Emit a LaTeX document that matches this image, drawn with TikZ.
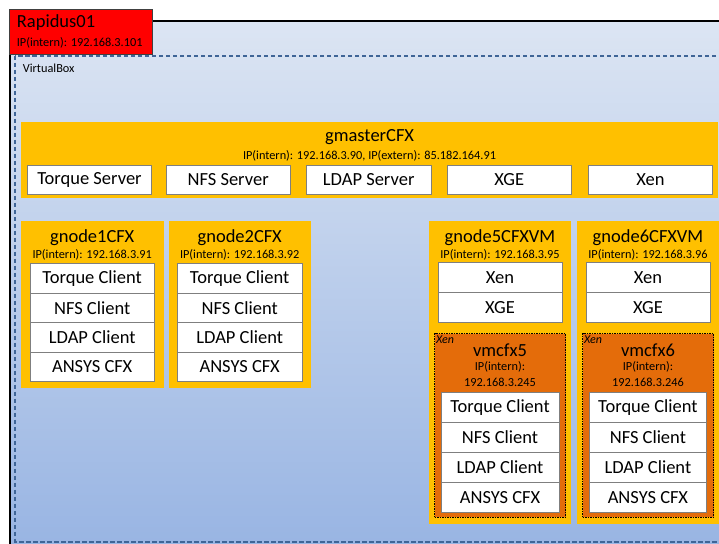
\documentclass[tikz,border=0pt]{standalone}
\usepackage{fontspec}
\setmainfont{Carlito}
\definecolor{hostcolor}{HTML}{FFC000}
\definecolor{vmcolor}{HTML}{E46C0A}
\definecolor{boxline}{HTML}{7F7F7F}
\definecolor{vboxline}{HTML}{3F6597}
\definecolor{bgtop}{HTML}{DCE5F3}
\definecolor{bgbottom}{HTML}{99B5E3}

\begin{document}
\begin{tikzpicture}[
    bigtext/.style = {font = \fontsize{18.5pt}{20pt}\selectfont, inner sep = 0pt},
    smalltext/.style = {font = \fontsize{12.3pt}{14pt}\selectfont, inner sep = 0pt},
    host/.style = {fill = hostcolor, anchor = north west, inner sep = 0pt},
    vm/.style = {fill = vmcolor, draw = black, line width = 0.6pt, dash pattern = on 1.5pt off 1pt, anchor = north west, inner sep = 0pt},
    service/.style = {bigtext, draw = boxline, fill = white, line width = 0.6pt, minimum width = 124.3pt, minimum height = 28.6pt},
    cell/.style = {bigtext, draw = boxline, fill = white, line width = 0.6pt, minimum width = 124.3pt, minimum height = 29.6pt},
    vmcell/.style = {bigtext, draw = boxline, fill = white, line width = 0.6pt, minimum width = 118pt, minimum height = 29.9pt}
]
        \useasboundingbox (0pt, 0pt) rectangle (719pt, -543pt);
        \fill [white] (0pt, 0pt) rectangle (719pt, -543pt);

        % Frame
        \shade [top color = bgtop, bottom color = bgbottom] (9.5pt, -21pt) rectangle (719pt, -543pt);
        \draw [line width = 2pt] (9.5pt, -545pt) -- (9.5pt, -21pt) -- (722pt, -21pt);
        \draw [vboxline, line width = 1.6pt, dash pattern = on 4.5pt off 2.5pt] (15pt, -55.7pt) rectangle (730pt, -541.7pt);
        \node [smalltext, anchor = west] (vboxlabel) at (22.7pt, -68.3pt) {VirtualBox};

        \node [fill = red, draw = black!75, line width = 0.6pt, anchor = north west, inner sep = 0pt, minimum width = 143pt, minimum height = 45.3pt] (rapidus) at (8.5pt, -9pt) {};
        \node [bigtext, anchor = west] (rapidusname) at (16.7pt, -23pt) {Rapidus01};
        \node [smalltext, anchor = west] (rapidusip) at (16.7pt, -42.7pt) {IP(intern): 192.168.3.101};

        % Master
        \node [host, minimum width = 697pt, minimum height = 75.7pt] (gmaster) at (21pt, -122pt) {};
        \node [bigtext] (gmastername) at (369.5pt, -137pt) {gmasterCFX};
        \node [smalltext] (gmasterip) at (369.5pt, -156pt) {IP(intern): 192.168.3.90, IP(extern): 85.182.164.91};
        \node [service] (torqueserver) at (89.5pt, -180pt) {Torque Server};
        \node [service] (nfsserver) at (228.2pt, -180pt) {NFS Server};
        \node [service] (ldapserver) at (368.7pt, -180pt) {LDAP Server};
        \node [service] (xgeserver) at (509.2pt, -180pt) {XGE};
        \node [service] (xenserver) at (650.5pt, -180pt) {Xen};

        % Nodes 1 and 2
        \node [host, minimum width = 142.3pt, minimum height = 166.7pt] (gnode1) at (21pt, -221pt) {};
        \node [bigtext] (gnode1name) at (92.2pt, -237.7pt) {gnode1CFX};
        \node [smalltext] (gnode1ip) at (92.2pt, -255pt) {IP(intern): 192.168.3.91};
        \node [cell] (g1torque) at (92.2pt, -278.1pt) {Torque Client};
        \node [cell] (g1nfs) at (92.2pt, -307.7pt) {NFS Client};
        \node [cell] (g1ldap) at (92.2pt, -337.3pt) {LDAP Client};
        \node [cell] (g1ansys) at (92.2pt, -366.9pt) {ANSYS CFX};

        \node [host, minimum width = 141.7pt, minimum height = 166.7pt] (gnode2) at (169pt, -221pt) {};
        \node [bigtext] (gnode2name) at (239.7pt, -237.7pt) {gnode2CFX};
        \node [smalltext] (gnode2ip) at (239.7pt, -255pt) {IP(intern): 192.168.3.92};
        \node [cell] (g2torque) at (239.7pt, -278.1pt) {Torque Client};
        \node [cell] (g2nfs) at (239.7pt, -307.7pt) {NFS Client};
        \node [cell] (g2ldap) at (239.7pt, -337.3pt) {LDAP Client};
        \node [cell] (g2ansys) at (239.7pt, -366.9pt) {ANSYS CFX};

        % Nodes 5 and 6 with their VMs
        \node [host, minimum width = 142pt, minimum height = 303pt] (gnode5) at (429pt, -221pt) {};
        \node [bigtext] (gnode5name) at (500pt, -237.7pt) {gnode5CFXVM};
        \node [smalltext] (gnode5ip) at (500pt, -255pt) {IP(intern): 192.168.3.95};
        \node [cell, minimum height = 30pt] (g5xen) at (500pt, -277.3pt) {Xen};
        \node [cell, minimum height = 30pt] (g5xge) at (500pt, -307.3pt) {XGE};
        \node [vm, minimum width = 131pt, minimum height = 183.4pt] (vmcfx5) at (434.3pt, -333.3pt) {};
        \node [smalltext, anchor = west, font = \fontsize{12pt}{14pt}\selectfont\itshape] (vm5xen) at (436pt, -339.3pt) {Xen};
        \node [bigtext] (vm5name) at (500pt, -350pt) {vmcfx5};
        \node [smalltext] (vm5ipa) at (500pt, -366.7pt) {IP(intern):};
        \node [smalltext] (vm5ipb) at (500pt, -382.3pt) {192.168.3.245};
        \node [vmcell] (v5torque) at (500pt, -407.65pt) {Torque Client};
        \node [vmcell] (v5nfs) at (500pt, -437.55pt) {NFS Client};
        \node [vmcell] (v5ldap) at (500pt, -467.45pt) {LDAP Client};
        \node [vmcell] (v5ansys) at (500pt, -497.35pt) {ANSYS CFX};

        \node [host, minimum width = 142pt, minimum height = 303pt] (gnode6) at (576.7pt, -221pt) {};
        \node [bigtext] (gnode6name) at (648pt, -237.7pt) {gnode6CFXVM};
        \node [smalltext] (gnode6ip) at (648pt, -255pt) {IP(intern): 192.168.3.96};
        \node [cell, minimum height = 30pt] (g6xen) at (648pt, -277.3pt) {Xen};
        \node [cell, minimum height = 30pt] (g6xge) at (648pt, -307.3pt) {XGE};
        \node [vm, minimum width = 131pt, minimum height = 183.4pt] (vmcfx6) at (582.3pt, -333.3pt) {};
        \node [smalltext, anchor = west, font = \fontsize{12pt}{14pt}\selectfont\itshape] (vm6xen) at (584pt, -339.3pt) {Xen};
        \node [bigtext] (vm6name) at (648pt, -350pt) {vmcfx6};
        \node [smalltext] (vm6ipa) at (648pt, -366.7pt) {IP(intern):};
        \node [smalltext] (vm6ipb) at (648pt, -382.3pt) {192.168.3.246};
        \node [vmcell, minimum width = 117.7pt] (v6torque) at (647.9pt, -407.65pt) {Torque Client};
        \node [vmcell, minimum width = 117.7pt] (v6nfs) at (647.9pt, -437.55pt) {NFS Client};
        \node [vmcell, minimum width = 117.7pt] (v6ldap) at (647.9pt, -467.45pt) {LDAP Client};
        \node [vmcell, minimum width = 117.7pt] (v6ansys) at (647.9pt, -497.35pt) {ANSYS CFX};

    \end{tikzpicture}
\end{document}
